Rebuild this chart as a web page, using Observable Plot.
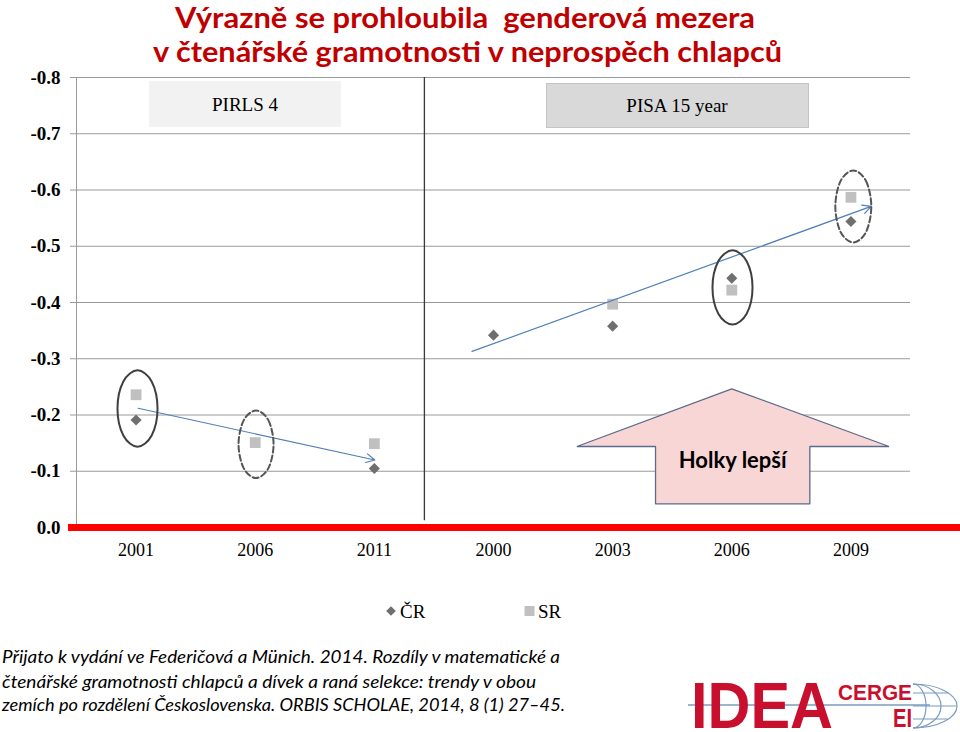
<!DOCTYPE html>
<html>
<head>
<meta charset="utf-8">
<script src="https://cdn.jsdelivr.net/npm/d3@7"></script>
<script src="https://cdn.jsdelivr.net/npm/@observablehq/plot@0.6"></script>
<style>
  html, body { margin: 0; padding: 0; background: #fff; }
  #wrap { position: relative; width: 960px; height: 732px; overflow: hidden; background: #fff; }
  #chart { position: absolute; left: 0; top: 0; }
  #overlay { position: absolute; left: 0; top: 0; pointer-events: none; }
  #chart g[aria-label="y-axis tick label"] text,
  #chart g[aria-label="y-axis tick label"],
  #chart g[aria-label="y-axis"] text { font-weight: bold; font-size: 19px; }
  #chart g[aria-label="y-axis tick"] { stroke: #9a9a9a; }
  #chart g[aria-label="y-axis"] line { stroke: #9a9a9a; }
</style>
</head>
<body>
<div id="wrap">
  <div id="chart"></div>
  <svg id="overlay" width="960" height="732"></svg>
</div>
<script>
// ---- data ----
const xLabels = ["2001", "2006", "2011", "2000", "2003", "2006", "2009"];
const studies = ["PIRLS", "PIRLS", "PIRLS", "PISA", "PISA", "PISA", "PISA"];
const yTicks = [-0.8, -0.7, -0.6, -0.5, -0.4, -0.3, -0.2, -0.1, 0];
const crValues = [-0.191, null, -0.105, -0.342, -0.358, -0.443, -0.544];
const srValues = [-0.236, -0.151, -0.149, null, -0.397, -0.422, -0.587];
const seriesNames = ["ČR", "SR"];
const studyLabels = ["PIRLS 4", "PISA 15 year"];
// trend arrows (x in category index units, y in value units)
const trendX1 = [0.018, 2.82];
const trendY1 = [-0.212, -0.313];
const trendX2 = [2.004, 6.17];
const trendY2 = [-0.120, -0.571];
// highlight ellipses: centre x, centre y, half-width, half-height
const ellSolidX = [0.012, 5.006];
const ellSolidY = [-0.2116, -0.4267];
const ellSolidRx = [0.168, 0.168];
const ellSolidRy = [0.068, 0.066];
const ellDashX = [1.007, 6.02];
const ellDashY = [-0.148, -0.5707];
const ellDashRx = [0.147, 0.151];
const ellDashRy = [0.060, 0.064];
// "Holky lepší" block arrow outline
const bigArrowX = [3.70, 5.00, 6.32, 5.655, 5.655, 4.36, 4.36];
const bigArrowY = [-0.144, -0.2466, -0.144, -0.144, -0.042, -0.042, -0.144];
const bigArrowLabel = "Holky lepší";
const dividerX = 2.42;
const titleLines = ["Výrazně se prohloubila  genderová mezera", "v čtenářské gramotnosti v neprospěch chlapců"];
const captionLines = [
  "Přijato k vydání ve Federičová a Münich. 2014. Rozdíly v matematické a",
  "čtenářské gramotnosti chlapců a dívek a raná selekce: trendy v obou",
  "zemích po rozdělení Československa. ORBIS SCHOLAE, 2014, 8 (1) 27–45."
];

// ---- tables ----
const xIndex = xLabels.map((_, i) => i);
const crData = xIndex.map(i => ({i, v: crValues[i]})).filter(d => d.v != null);
const srData = xIndex.map(i => ({i, v: srValues[i]})).filter(d => d.v != null);
const trends = trendX1.map((_, k) => ({x1: trendX1[k], y1: trendY1[k], x2: trendX2[k], y2: trendY2[k]}));
// outline of an ellipse: 8 points on its rim (unit-circle directions)
const rimDX = [0, 0.7071, 1, 0.7071, 0, -0.7071, -1, -0.7071];
const rimDY = [-1, -0.7071, 0, 0.7071, 1, 0.7071, 0, -0.7071];
function ellipsePts(X, Y, RX, RY) {
  const pts = [];
  X.forEach((cx, k) => {
    rimDX.forEach((dx, j) => pts.push({k, x: cx + dx * RX[k], y: Y[k] + rimDY[j] * RY[k]}));
  });
  return pts;
}
const ellSolid = ellipsePts(ellSolidX, ellSolidY, ellSolidRx, ellSolidRy);
const ellDash = ellipsePts(ellDashX, ellDashY, ellDashRx, ellDashRy);
const bigArrow = bigArrowX.map((x, k) => ({x, y: bigArrowY[k]}));
const bigArrowText = [{x: (bigArrowX[4] + bigArrowX[5]) / 2, y: -0.118, label: bigArrowLabel}];

const chart = Plot.plot({
  width: 960,
  height: 732,
  marginTop: 77,
  marginBottom: 205,
  marginLeft: 76,
  marginRight: 50,
  style: {fontFamily: "'Liberation Serif', serif", fontSize: "18px", background: "transparent", color: "#000"},
  x: {type: "linear", domain: [-0.5, 6.5], ticks: xIndex, tickFormat: i => xLabels[i], tickSize: 0, tickPadding: 16, label: null},
  y: {domain: [0, -0.8], ticks: yTicks, tickFormat: d => d.toFixed(1), tickSize: 6, tickPadding: 10, label: null},
  marks: [
    Plot.ruleY(yTicks, {stroke: "#9a9a9a", strokeWidth: 1}),
    Plot.ruleX([-0.5], {y1: -0.8, y2: 0, stroke: "#9a9a9a", strokeWidth: 1}),
    Plot.ruleX([dividerX], {y1: -0.8, y2: -0.012, stroke: "#3a3a3a", strokeWidth: 1.3}),
    Plot.line(bigArrow, {x: "x", y: "y", curve: "linear-closed", fill: "#f9d6d6", stroke: "#5b6b8c", strokeWidth: 1.3, strokeLinejoin: "miter"}),
    Plot.text(bigArrowText, {x: "x", y: "y", text: "label", fontFamily: "Lato, 'Open Sans', sans-serif", fontWeight: "bold", fontSize: 22, fill: "#000"}),
    Plot.ruleY([0], {stroke: "#ff0000", strokeWidth: 7, insetLeft: -8, insetRight: -50}),
    Plot.dot(srData, {x: "i", y: "v", symbol: "square", r: 6.1, fill: "#c0c0c0"}),
    Plot.dot(crData, {x: "i", y: "v", symbol: "diamond2", r: 5, fill: "#6f6f6f"}),
    Plot.arrow(trends, {x1: "x1", y1: "y1", x2: "x2", y2: "y2", stroke: "#4f7fb8", strokeWidth: 1.2, headLength: 12, headAngle: 55}),
    Plot.line(ellSolid, {x: "x", y: "y", z: "k", curve: "cardinal-closed", stroke: "#3f3f3f", strokeWidth: 2}),
    Plot.line(ellDash, {x: "x", y: "y", z: "k", curve: "cardinal-closed", stroke: "#555", strokeWidth: 2, strokeDasharray: "6,3"})
  ]
});
document.getElementById("chart").appendChild(chart);

// ---- overlay: title, study boxes, legend, caption, logo ----
const ov = d3.select("#overlay");
const title = ov.append("g").attr("fill", "#c00000").attr("font-family", "Lato, 'Open Sans', sans-serif").attr("font-weight", "bold").attr("font-size", 29);
title.append("text").attr("x", 175).attr("y", 28).attr("textLength", 580).attr("lengthAdjust", "spacingAndGlyphs").style("white-space", "pre").text(titleLines[0]);
title.append("text").attr("x", 153).attr("y", 62).attr("textLength", 629).attr("lengthAdjust", "spacingAndGlyphs").text(titleLines[1]);

// study boxes
ov.append("rect").attr("x", 149).attr("y", 81).attr("width", 192).attr("height", 46).attr("fill", "#f2f2f2");
ov.append("text").attr("x", 245).attr("y", 111).attr("text-anchor", "middle").attr("font-family", "'Liberation Serif', serif").attr("font-size", 19).text(studyLabels[0]);
ov.append("rect").attr("x", 546.5).attr("y", 83.5).attr("width", 262).attr("height", 44).attr("fill", "#d9d9d9").attr("stroke", "#c4c4c4");
ov.append("text").attr("x", 677).attr("y", 112).attr("text-anchor", "middle").attr("font-family", "'Liberation Serif', serif").attr("font-size", 19).text(studyLabels[1]);

// legend
const lg = ov.append("g").attr("font-family", "'Liberation Serif', serif").attr("font-size", 19);
lg.append("path").attr("d", d3.symbol(d3.symbolDiamond2, 60)()).attr("transform", "translate(391,611)").attr("fill", "#6f6f6f");
lg.append("text").attr("x", 400).attr("y", 618).text(seriesNames[0]);
lg.append("rect").attr("x", 524.5).attr("y", 606).attr("width", 10).attr("height", 10).attr("fill", "#c0c0c0");
lg.append("text").attr("x", 538).attr("y", 618).text(seriesNames[1]);

// caption
const cap = ov.append("g").attr("font-family", "Lato, 'Open Sans', sans-serif").attr("font-style", "italic").attr("font-size", 17).attr("fill", "#000");
const capWidths = [558, 534, 563];
const capBase = [663, 688, 711];
captionLines.forEach((t, k) => {
  cap.append("text").attr("x", 2).attr("y", capBase[k]).attr("textLength", capWidths[k]).attr("lengthAdjust", "spacingAndGlyphs").text(t);
});

// logo
const logo = ov.append("g");
logo.append("line").attr("x1", 688).attr("x2", 930).attr("y1", 705).attr("y2", 705).attr("stroke", "#7a9cc2").attr("stroke-width", 1.3);
logo.append("text").attr("x", 691).attr("y", 728).attr("font-family", "'Liberation Sans', sans-serif").attr("font-weight", "bold").attr("font-size", 64).attr("fill", "#c8102e").attr("textLength", 142).attr("lengthAdjust", "spacingAndGlyphs").text("IDEA");
logo.append("text").attr("x", 838).attr("y", 700).attr("font-family", "'Liberation Sans', sans-serif").attr("font-weight", "bold").attr("font-size", 22).attr("fill", "#c8102e").attr("textLength", 74).attr("lengthAdjust", "spacingAndGlyphs").text("CERGE");
logo.append("text").attr("x", 893).attr("y", 727).attr("font-family", "'Liberation Sans', sans-serif").attr("font-weight", "bold").attr("font-size", 26).attr("fill", "#c8102e").attr("textLength", 19).attr("lengthAdjust", "spacingAndGlyphs").text("EI");
const globe = logo.append("g").attr("fill", "none").attr("stroke", "#7a9cc2").attr("stroke-width", 1.2);
globe.append("path").attr("d", "M913,684 A44,22 0 0 1 913,728");
globe.append("path").attr("d", "M913,684 A28,22 0 0 1 913,728");
globe.append("path").attr("d", "M913,684 A13,22 0 0 1 913,728");
globe.append("line").attr("x1", 913).attr("x2", 948).attr("y1", 693).attr("y2", 693);
globe.append("line").attr("x1", 913).attr("x2", 956).attr("y1", 706).attr("y2", 706);
globe.append("line").attr("x1", 913).attr("x2", 948).attr("y1", 719).attr("y2", 719);
</script>
</body>
</html>
